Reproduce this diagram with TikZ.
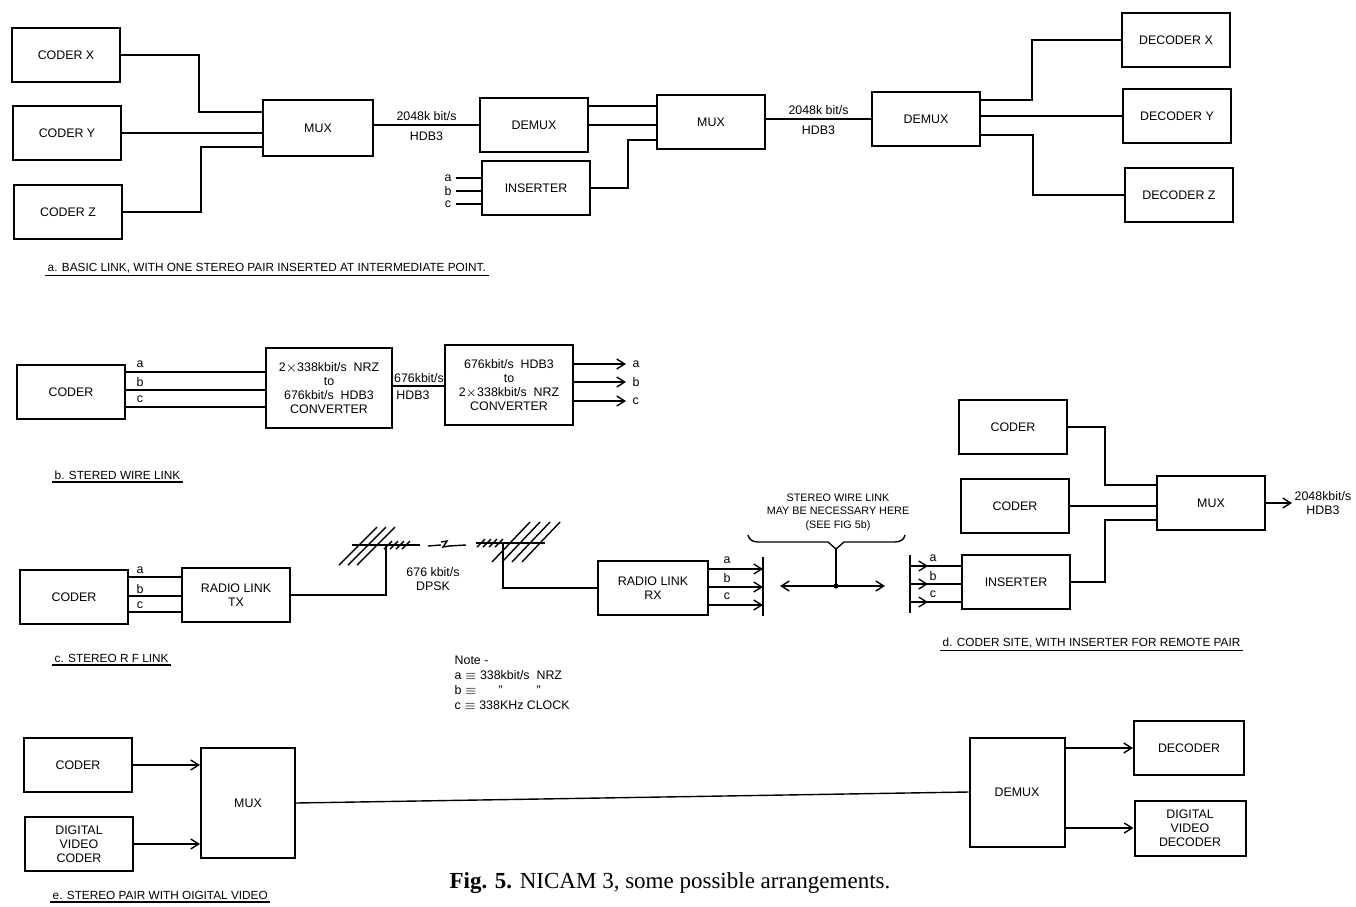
\documentclass[tikz,border=0pt]{standalone}
\usepackage{fontspec}
\setmainfont{Liberation Sans}
\newfontfamily\capfont{Liberation Serif}
\usetikzlibrary{arrows.meta}

\newcommand{\lbl}{\fontsize{6.2}{7}\selectfont}
\newcommand{\sml}{\fontsize{5.4}{6.8}\selectfont}
\newcommand{\undl}{\fontsize{5.9}{7}\selectfont}

\tikzset{
  blk/.style={draw, line width=1pt, minimum width=54pt, minimum height=27pt,
    inner sep=1pt, align=center, font=\lbl},
  txt/.style={inner sep=0pt, font=\lbl, align=center},
  captxt/.style={inner sep=1pt, font=\undl, anchor=west},
}

\begin{document}
\begin{tikzpicture}[x=0.5pt, y=-0.5pt, line width=0.7pt,
  >={Straight Barb[length=4pt,width=5pt]}]
\useasboundingbox (0,0) rectangle (1356,906);

% a. basic link
\node[blk] (cx) at (66,55) {CODER X};
\node[blk] (cy) at (67,133) {CODER Y};
\node[blk] (cz) at (68,212) {CODER Z};
\node[blk, minimum width=55pt, minimum height=28pt] (muxa) at (318,128) {MUX};
\node[blk] (demuxa) at (534,125) {DEMUX};
\node[blk] (insa) at (536,188) {INSERTER};
\node[blk] (muxb) at (711,122) {MUX};
\node[blk] (demuxb) at (926,119) {DEMUX};
\node[blk] (dx) at (1176,40) {DECODER X};
\node[blk] (dy) at (1177,116) {DECODER Y};
\node[blk] (dz) at (1179,195) {DECODER Z};

\draw (cx.east) -- ++(78,0) |- ([yshift=8pt]muxa.west);
\draw (cy.east) -- (cy.east -| muxa.west);
\draw (cz.east) -- ++(78,0) |- ([yshift=-9.5pt]muxa.west);
\draw (muxa.east |- demuxa.west) -- (demuxa.west)
  node[txt, midway, above=2pt] (ra1) {2048k bit/s}
  node[txt, midway, below=3pt] (rb1) {HDB3};
\draw ([yshift=9.5pt]demuxa.east) -- ([yshift=9.5pt]demuxa.east -| muxb.west);
\draw (demuxa.east) -- (demuxa.east -| muxb.west);
\draw (insa.east) -- ++(37,0) |- ([yshift=-9pt]muxb.west);
\foreach \y/\t in {178/a,191/b,204/c}{
  \draw (insa.west |- 0,\y) -- ++(-25,0);
  \node[txt] (la\t) at (448,\y) {\t};
}
\draw (muxb.east |- demuxb.west) -- (demuxb.west)
  node[txt, midway, above=2pt] (ra2) {2048k bit/s}
  node[txt, midway, below=3pt] (rb2) {HDB3};
\draw ([yshift=9.5pt]demuxb.east) -- ++(51,0) |- (dx.west);
\draw (demuxb.east |- dy.west) -- (dy.west);
\draw ([yshift=-8pt]demuxb.east) -- ++(52,0) |- (dz.west);

\node[captxt] (capa) at (45,268) {a. BASIC LINK, WITH ONE STEREO PAIR INSERTED AT INTERMEDIATE POINT.};
\draw (capa.south west) -- (capa.south east);

% b. stereo wire link
\node[blk] (cb) at (71,392) {CODER};
\node[blk, minimum width=63pt, minimum height=40pt] (cv1) at (329,388)
  {2$\times$338kbit/s\ \ NRZ\\to\\676kbit/s\ \ HDB3\\CONVERTER};
\node[blk, minimum width=64pt, minimum height=40pt] (cv2) at (509,385)
  {676kbit/s\ \ HDB3\\to\\2$\times$338kbit/s\ \ NRZ\\CONVERTER};
\foreach \y/\t in {372/a,390/b,407/c}{
  \draw (cb.east |- 0,\y) -- (cv1.west |- 0,\y);
  \node[txt] (lb\t) at (140,\y-8) {\t};
}
\draw (cv1.east |- 0,386) -- (cv2.west |- 0,386);
\node[txt] (rc1) at (419,378) {676kbit/s};
\node[txt] (rd1) at (413,395) {HDB3};
\foreach \y/\t in {364/a,382/b,401/c}
  \draw[->] (cv2.east |- 0,\y) -- ++(52,0) node[txt, right=3pt] (ob\t) {\t};

\node[captxt] (capb) at (52,475) {b. STERED WIRE LINK};
\draw (capb.south west) -- (capb.south east);

% c. stereo RF link
\node[blk] (cc) at (74,597) {CODER};
\node[blk] (tx) at (236,595) {RADIO LINK\\TX};
\foreach \y/\t in {577/a,596/b,612/c}{
  \draw (cc.east |- 0,\y) -- (tx.west |- 0,\y);
  \node[txt] (lc\t) at (140,\y-7) {\t};
}
\coordinate (m1) at (386,545);
\coordinate (m2) at (503,543);
\draw (tx.east) -| (m1);
% aerials
\draw (352,545) -- (420,545);
\foreach \c in {359,368,377}
  \draw (\c-20,565) -- (\c+18,527);
\foreach \c in {388,394,400,406}
  \draw (\c-4,549) -- (\c+4,541);
\draw (428,546) -- (441,545) (441,542) -- (447,541) -- (443,547) -- (449,546) -- (466,545);
\draw (476,543) -- (545,543);
\foreach \c in {481,487,493,499}
  \draw (\c-4,547) -- (\c+4,539);
\foreach \c in {510,520,530,540}
  \draw (\c-18,562) -- (\c+20,522);
\node[txt] (rf1) at (433,572) {676 kbit/s};
\node[txt] (rf2) at (433,586) {DPSK};

\node[blk, minimum width=55pt] (rx) at (653,588) {RADIO LINK\\RX};
\draw (m2) |- (rx.west);
\coordinate (bra) at (763,557);
\coordinate (brb) at (763,616);
\draw (bra) -- (brb);
\foreach \y/\t in {569/a,587/b,605/c}{
  \draw[->] (rx.east |- 0,\y) -- (bra |- 0,\y);
  \node[txt] (lr\t) at (727,\y-9) {\t};
}

\node[captxt] (capc) at (52,658) {c. STEREO R F LINK};
\draw (capc.south west) -- (capc.south east);

\node[txt, font=\fontsize{6.2}{7.5}\selectfont, anchor=north west, align=left] (note) at (454,655)
  {Note -\\a $\equiv$ 338kbit/s\ \ NRZ\\b $\equiv$\hspace{11pt}”\hspace{17pt}”\\c $\equiv$ 338KHz CLOCK};

% d. coder site
\node[txt, font=\sml] (swl) at (838,512) {STEREO WIRE LINK\\MAY BE NECESSARY HERE\\(SEE FIG 5b)};
\draw (748,535) to[out=-80, in=180] (758,542) -- (828,542) -- (836,549)
  -- (844,542) -- (895,542) to[out=0, in=-100] (905,535);
\coordinate (dl) at (780,586);
\coordinate (dr) at (885,586);
\coordinate (dj) at (836,586);
\draw[<->] (dl) -- (dr);
\draw (dj) -- (836,549);
\fill (dj) circle (1.3pt);

\node[blk] (cd1) at (1013,427) {CODER};
\node[blk] (cd2) at (1015,506) {CODER};
\node[blk] (insd) at (1016,582) {INSERTER};
\node[blk] (muxd) at (1211,503) {MUX};
\coordinate (brc) at (910,555);
\coordinate (brd) at (910,613);
\draw (brc) -- (brd);
\foreach \y/\t in {566/a,584/b,602/c}{
  \draw (brc |- 0,\y) -- (insd.west |- 0,\y);
  \draw[->] (brc |- 0,\y) -- ++(18,0);
  \node[txt] (ld\t) at (933,\y-8) {\t};
}
\draw (cd1.east) -- ++(37,0) |- ([yshift=9pt]muxd.west);
\draw (cd2.east) -- (cd2.east -| muxd.west);
\draw (insd.east) -- ++(34,0) |- ([yshift=-8.5pt]muxd.west);
\draw[->] (muxd.east) -- ++(26,0) node[txt, right=1pt] (od) {2048kbit/s\\HDB3};

\node[captxt] (capd) at (940,643) {d. CODER SITE, WITH INSERTER FOR REMOTE PAIR};
\draw (capd.south west) -- (capd.south east);

% e. stereo pair with digital video
\node[blk] (ce) at (78,765) {CODER};
\node[blk] (dvc) at (79,844) {DIGITAL\\VIDEO\\CODER};
\node[blk, minimum width=47pt, minimum height=55pt] (muxe) at (248,803) {MUX};
\node[blk, minimum width=47.5pt, minimum height=54.5pt] (demuxe) at (1017,792) {DEMUX};
\node[blk, minimum width=55pt] (dec) at (1189,748) {DECODER};
\node[blk, minimum width=55.5pt, minimum height=27.5pt] (dvd) at (1190,828) {DIGITAL\\VIDEO\\DECODER};
\draw[->] (ce.east) -- (ce.east -| muxe.west);
\draw[->] (dvc.east) -- (dvc.east -| muxe.west);
\draw (muxe.east) -- (demuxe.west);
\draw[->] (demuxe.east |- dec.west) -- (dec.west);
\draw[->] (demuxe.east |- dvd.west) -- (dvd.west);

\node[captxt] (cape) at (50,895) {e. STEREO PAIR WITH OIGITAL VIDEO};
\draw (cape.south west) -- (cape.south east);

\node[inner sep=0pt, font=\capfont\fontsize{11.5}{13}\selectfont] (fig) at (670,883)
  {\textbf{Fig. 5.} NICAM 3, some possible arrangements.};
\end{tikzpicture}
\end{document}
